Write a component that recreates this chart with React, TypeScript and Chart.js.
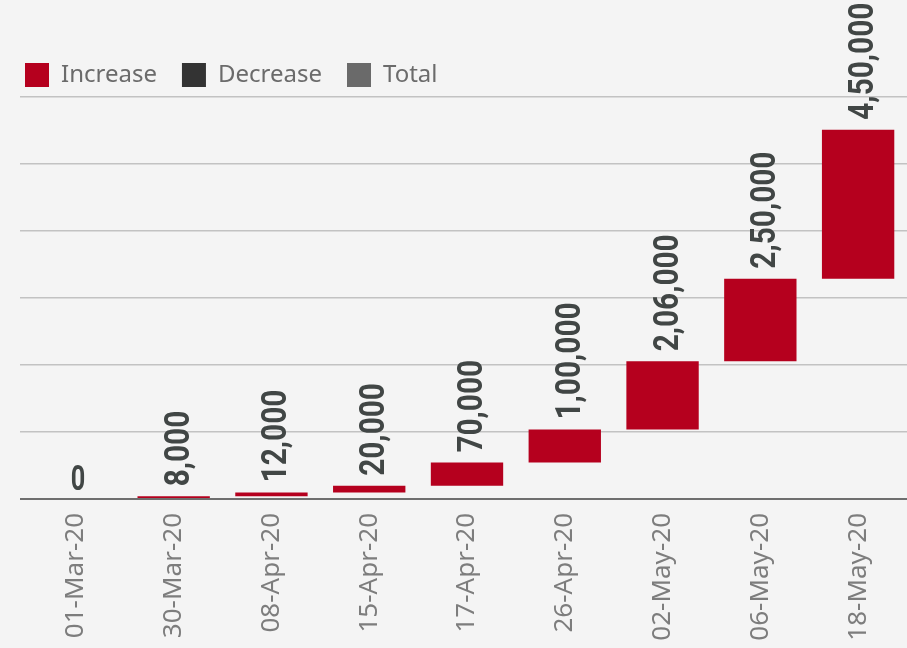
import React, { useEffect, useRef } from "react";
import { Chart, registerables } from "chart.js";

Chart.register(...registerables);

const categories = [
  "01-Mar-20",
  "30-Mar-20",
  "08-Apr-20",
  "15-Apr-20",
  "17-Apr-20",
  "26-Apr-20",
  "02-May-20",
  "06-May-20",
  "18-May-20",
];
const increments = [0, 8000, 12000, 20000, 70000, 100000, 206000, 250000, 450000];
const legendLabels = ["Increase", "Decrease", "Total"];
const legendColors = ["#b5001e", "#333333", "#6a6a6a"];
const yTickStep = 200000;

const BAR_COLOR = "#b5001e";

function formatIndian(n: number): string {
  const s = String(Math.round(Math.abs(n)));
  if (s.length <= 3) return (n < 0 ? "-" : "") + s;
  const last3 = s.slice(-3);
  let rest = s.slice(0, -3);
  const parts: string[] = [];
  while (rest.length > 2) {
    parts.unshift(rest.slice(-2));
    rest = rest.slice(0, -2);
  }
  if (rest.length) parts.unshift(rest);
  return (n < 0 ? "-" : "") + parts.join(",") + "," + last3;
}

const LABEL_FONT = "bold 35px Roboto, 'Noto Sans', sans-serif";
const LABEL_SCALE_X = 0.85;

const valueLabelPlugin = {
  id: "valueLabels",
  afterDatasetsDraw(chart: any) {
    const ctx = chart.ctx;
    const meta = chart.getDatasetMeta(0);
    ctx.save();
    ctx.font = LABEL_FONT;
    ctx.fillStyle = "#414645";
    meta.data.forEach((bar: any, i: number) => {
      const text = formatIndian(increments[i]);
      const props = bar.getProps(["x", "y", "base", "width"], true);
      const top = Math.min(props.y, props.base);
      const w = ctx.measureText(text).width * LABEL_SCALE_X;
      ctx.save();
      ctx.textBaseline = "alphabetic";
      if (w > props.width * 0.8) {
        ctx.translate(props.x + 15, top - 10);
        ctx.rotate(-Math.PI / 2);
        ctx.scale(LABEL_SCALE_X, 1);
        ctx.textAlign = "left";
        ctx.fillText(text, 0, 0);
      } else {
        ctx.translate(props.x + 2, top - 9);
        ctx.scale(LABEL_SCALE_X * 0.85, 1);
        ctx.textAlign = "center";
        ctx.fillText(text, 0, 0);
      }
      ctx.restore();
    });
    ctx.restore();
  },
};

const backgroundPlugin = {
  id: "bg",
  beforeDraw(chart: any) {
    const ctx = chart.ctx;
    ctx.save();
    ctx.fillStyle = "#f4f4f4";
    ctx.fillRect(0, 0, chart.width, chart.height);
    ctx.restore();
  },
};

export default function App() {
  const canvasRef = useRef<HTMLCanvasElement | null>(null);

  useEffect(() => {
    if (!canvasRef.current) return;
    const ranges: [number, number][] = [];
    let acc = 0;
    increments.forEach((v) => {
      ranges.push([acc, acc + v]);
      acc += v;
    });

    const chart = new Chart(canvasRef.current, {
      type: "bar",
      data: {
        labels: categories,
        datasets: [
          {
            label: legendLabels[0],
            data: ranges as any,
            backgroundColor: BAR_COLOR,
            borderWidth: 0,
            borderSkipped: false,
            barPercentage: 0.74,
            categoryPercentage: 1,
          },
        ],
      },
      options: {
        animation: false,
        responsive: true,
        maintainAspectRatio: false,
        layout: { padding: { top: 38, left: 0, right: 0, bottom: 0 } },
        plugins: {
          tooltip: { enabled: false },
          legend: {
            display: true,
            position: "top",
            align: "start",
            onClick: () => {},
            labels: {
              boxWidth: 24,
              boxHeight: 24,
              padding: 25,
              color: "#6b6b6b",
              font: { family: "'Noto Sans', sans-serif", size: 24 },
              generateLabels: () =>
                legendLabels.map((t, i) => ({
                  text: t,
                  fillStyle: legendColors[i],
                  strokeStyle: legendColors[i],
                  lineWidth: 0,
                  hidden: false,
                  datasetIndex: 0,
                  fontColor: "#6b6b6b",
                })),
            },
          },
        },
        scales: {
          x: {
            offset: true,
            grid: { display: false, drawTicks: false },
            border: { display: false },
            ticks: {
              minRotation: 90,
              maxRotation: 90,
              padding: 14,
              color: "#7d7d7d",
              font: { family: "'Noto Sans', sans-serif", size: 26 },
            },
            afterFit: (scale: any) => {
              scale.height = 149;
            },
          },
          y: {
            min: 0,
            max: 1215000,
            bounds: "data",
            border: { display: false },
            grid: {
              drawTicks: true,
              tickLength: 7,
              color: (c: any) => (c.tick && c.tick.value === 0 ? "#6e6e6e" : "#c2c2c2"),
              lineWidth: (c: any) => (c.tick && c.tick.value === 0 ? 2 : 1.5),
            },
            ticks: { display: false, stepSize: yTickStep, includeBounds: false },
            afterFit: (scale: any) => {
              scale.width = 27;
            },
          },
        },
      },
      plugins: [backgroundPlugin, valueLabelPlugin],
    });
    return () => chart.destroy();
  }, []);

  return (
    <div
      style={{
        position: "fixed",
        left: 0,
        top: 0,
        width: 907,
        height: 648,
        background: "#f4f4f4",
      }}
    >
      <canvas ref={canvasRef} />
    </div>
  );
}
